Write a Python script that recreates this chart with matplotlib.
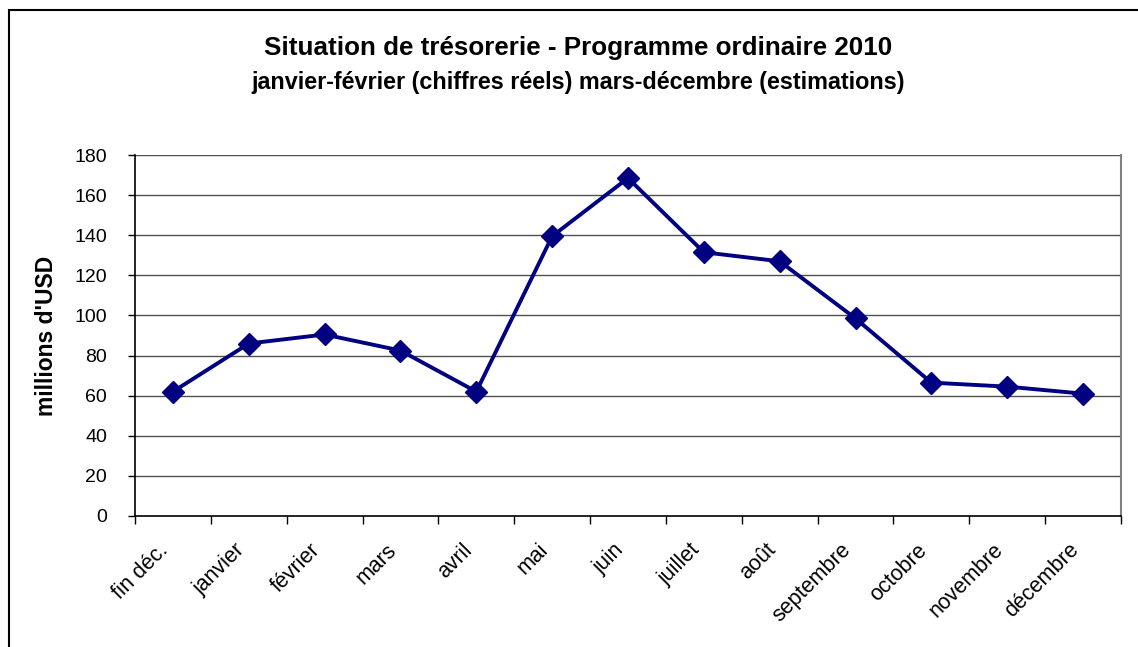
import matplotlib
matplotlib.use("Agg")
import matplotlib.pyplot as plt
from matplotlib.patches import Rectangle

plt.rcParams['font.family'] = ['Liberation Sans', 'DejaVu Sans']

# Données (millions d'USD)
mois = ["fin déc.", "janvier", "février", "mars", "avril", "mai", "juin",
        "juillet", "août", "septembre", "octobre", "novembre", "décembre"]
tresorerie = [62, 86, 90.5, 82.5, 62, 139.5, 168.5, 131.5, 127, 98.5, 66.5, 64.5, 61]
graduations_y = [0, 20, 40, 60, 80, 100, 120, 140, 160, 180]

W, H = 1138, 647
fig = plt.figure(figsize=(W / 100, H / 100), dpi=100)
ax = fig.add_axes([135 / W, 1 - 516 / H, (1121 - 135) / W, (516 - 155) / H])

# Cadre du graphique (coupé à droite et en bas comme sur l'original)
fig.patches.append(Rectangle((9 / W, -0.2), 1.5, 1 - 10 / H + 0.2,
                             transform=fig.transFigure, fill=False,
                             edgecolor='black', linewidth=1.5))

x = list(range(len(mois)))
ax.plot(x, tresorerie, color='#000080', linewidth=2.8, marker='D',
        markersize=11, markerfacecolor='#000080', markeredgecolor='#000080',
        zorder=3)

ax.set_xlim(-0.5, len(mois) - 0.5)
ax.set_ylim(0, 180)
ax.set_yticks(graduations_y)
ax.set_yticklabels([str(v) for v in graduations_y], fontsize=14)
for v in graduations_y[1:]:
    ax.axhline(v, color='#505050', linewidth=1.0, zorder=1)

# Graduations x entre les catégories, libellés au centre
ax.set_xticks([i - 0.5 for i in range(len(mois) + 1)], minor=True)
ax.set_xticks(x)
ax.set_xticklabels(mois, rotation=45, ha='right', va='top', fontsize=15.5)
ax.tick_params(axis='x', which='major', length=0, pad=17)
ax.tick_params(axis='x', which='minor', length=6, width=1, color='black',
               direction='out')
ax.tick_params(axis='y', length=5, width=1, color='black', direction='out', pad=15)

for s in ['left', 'bottom']:
    ax.spines[s].set_color('black')
    ax.spines[s].set_linewidth(1.2)
ax.spines['top'].set_visible(False)
ax.spines['right'].set_color('#808080')
ax.spines['right'].set_linewidth(1.5)

ax.set_ylabel("millions d'USD", fontsize=16.5, fontweight='bold')
ax.yaxis.set_label_coords(-(135 - 58) / (1121 - 135), 0.5)

fig.text(578 / W, 1 - 48 / H, "Situation de trésorerie - Programme ordinaire 2010",
         ha='center', va='center', fontsize=18.7, fontweight='bold')
fig.text(578 / W, 1 - 82 / H,
         "janvier-février (chiffres réels) mars-décembre (estimations)",
         ha='center', va='center', fontsize=16.8, fontweight='bold')

fig.savefig("out.png", dpi=100, facecolor='white')
